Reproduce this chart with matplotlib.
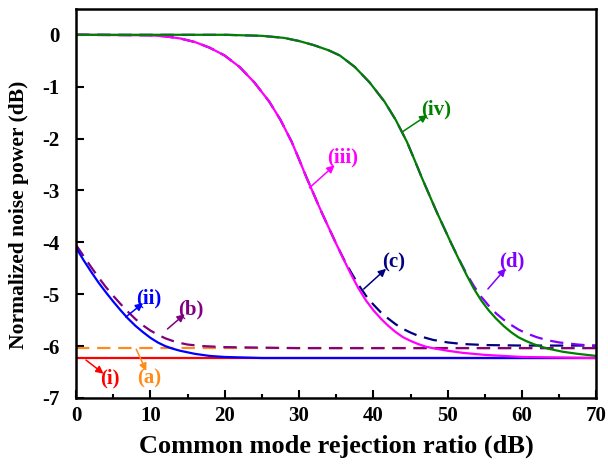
import numpy as np
import matplotlib
matplotlib.use("Agg")
import matplotlib.pyplot as plt
from matplotlib.ticker import MultipleLocator

plt.rcParams['font.family'] = ['Liberation Serif', 'DejaVu Serif']
plt.rcParams['font.weight'] = 'bold'
plt.rcParams['axes.unicode_minus'] = False

# (i) and (a): flat levels
x_flat = [0, 70]
y_i = [-6.23, -6.23]
y_a = [-6.04, -6.04]

# (ii) solid blue, (b) dashed purple
x_ii = [0, 1, 2, 3, 4, 5, 6, 7, 8, 9, 10, 11, 12, 13, 14, 15, 16, 18, 20, 25, 30, 70]
y_ii = [-4.10, -4.34, -4.56, -4.77, -4.96, -5.14, -5.31, -5.47, -5.61, -5.73,
        -5.84, -5.93, -6.00, -6.05, -6.09, -6.12, -6.15, -6.19, -6.21, -6.23,
        -6.23, -6.23]
x_b = [0, 1, 2, 3, 4, 5, 6, 7, 8, 9, 10, 11, 12, 13, 14, 15, 17, 20, 25, 30, 70]
y_b = [-4.05, -4.26, -4.47, -4.67, -4.86, -5.03, -5.19, -5.34, -5.48, -5.60,
       -5.70, -5.78, -5.85, -5.90, -5.94, -5.97, -6.00, -6.02, -6.03, -6.04, -6.04]

# (iii) solid magenta, (c) dashed navy
x_iii = [0, 10, 12, 14, 16, 18, 20, 22, 24, 26, 27.5, 29, 30, 31, 32, 33, 34,
         35, 36, 37, 38, 39, 40, 41, 42, 43, 44, 45, 46, 47, 48, 50, 52, 55,
         60, 65, 70]
y_iii = [0, -0.01, -0.03, -0.07, -0.14, -0.25, -0.40, -0.62, -0.92, -1.29,
         -1.64, -2.06, -2.40, -2.75, -3.08, -3.41, -3.72, -4.03, -4.33, -4.62,
         -4.89, -5.12, -5.31, -5.47, -5.61, -5.73, -5.83, -5.90, -5.96, -6.01,
         -6.04, -6.09, -6.13, -6.17, -6.21, -6.22, -6.23]
x_c = [0, 10, 12, 14, 16, 18, 20, 22, 24, 26, 27.5, 29, 30, 31, 32, 33, 34,
       35, 36, 37, 38, 39, 40, 41, 42, 43, 44, 45, 46, 47, 48, 50, 52, 55, 60, 70]
y_c = [0, -0.01, -0.03, -0.07, -0.14, -0.25, -0.40, -0.62, -0.92, -1.29,
       -1.64, -2.06, -2.40, -2.75, -3.08, -3.41, -3.72, -4.03, -4.32, -4.58,
       -4.82, -5.03, -5.20, -5.35, -5.47, -5.58, -5.67, -5.74, -5.80, -5.84,
       -5.88, -5.93, -5.96, -5.98, -5.99, -5.99]

# (iv) solid green, (d) dashed violet
x_iv = [0, 20, 25, 28, 30, 32, 34, 35.5, 37.5, 39.5, 41.5, 43, 44.5, 45.5,
        46.5, 47.5, 48.5, 49.5, 50.5, 51.5, 52.5, 53.5, 54.5, 55.5, 56.5, 57.5,
        58.5, 59.5, 60.5, 61.5, 62.5, 63.5, 65.5, 67.5, 70]
y_iv = [0, 0, -0.02, -0.06, -0.12, -0.20, -0.30, -0.40, -0.62, -0.92, -1.29,
        -1.64, -2.06, -2.40, -2.75, -3.08, -3.41, -3.72, -4.03, -4.33, -4.62,
        -4.89, -5.12, -5.31, -5.47, -5.61, -5.73, -5.83, -5.90, -5.96, -6.01,
        -6.05, -6.11, -6.15, -6.19]
x_d = [0, 20, 25, 28, 30, 32, 34, 35.5, 37.5, 39.5, 41.5, 43, 44.5, 45.5,
       46.5, 47.5, 48.5, 49.5, 50.5, 51.5, 52.5, 53.5, 54.5, 55.5, 56.5, 57.5,
       58.5, 59.5, 60.5, 62, 63.5, 65, 67.5, 70]
y_d = [0, 0, -0.02, -0.06, -0.12, -0.20, -0.30, -0.40, -0.62, -0.92, -1.29,
       -1.64, -2.06, -2.40, -2.75, -3.08, -3.41, -3.72, -4.03, -4.32, -4.60,
       -4.84, -5.05, -5.22, -5.37, -5.49, -5.59, -5.68, -5.75, -5.83, -5.89,
       -5.93, -5.97, -6.00]

# labels: text, text pos, arrow start, colour
labels = ['(i)', '(a)', '(ii)', '(b)', '(iii)', '(c)', '(iv)', '(d)']
text_xy = [(4.5, -6.62), (9.9, -6.62), (9.8, -5.08), (15.4, -5.29),
           (35.9, -2.37), (42.7, -4.38), (48.4, -1.44), (58.6, -4.37)]
arrow_from = [(1.35, -6.27), (8.1, -6.06), (6.7, -5.44), (12.3, -5.67),
              (31.4, -2.95), (38.7, -4.90), (43.9, -1.87), (55.4, -4.90)]

c_i, c_a, c_ii, c_b = '#ff0000', '#ff8c1a', '#0000ff', '#800080'
c_iii, c_c, c_iv, c_d = '#ff00ff', '#000080', '#008000', '#8000ff'
colors = [c_i, c_a, c_ii, c_b, c_iii, c_c, c_iv, c_d]

fig = plt.figure(figsize=(6.08, 4.66), dpi=100)
ax = fig.add_axes([0.125, 0.146, 0.856, 0.835])

lw = 1.6
dash = (6, 3.5)
ax.plot(x_flat, y_a, color=c_a, lw=lw, dashes=dash)
ax.plot(x_b, y_b, color=c_b, lw=lw, dashes=dash)
ax.plot(x_c, y_c, color=c_c, lw=lw, dashes=dash)
ax.plot(x_d, y_d, color=c_d, lw=lw, dashes=dash)
ax.plot(x_flat, y_i, color=c_i, lw=lw)
ax.plot(x_ii, y_ii, color=c_ii, lw=lw)
ax.plot(x_iii, y_iii, color=c_iii, lw=lw)
ax.plot(x_iv, y_iv, color=c_iv, lw=lw)

for lab, txy, axy, col in zip(labels, text_xy, arrow_from, colors):
    ax.text(txy[0], txy[1], lab, color=col, fontsize=15, fontweight='bold',
            ha='center', va='center')
    tip = (axy[0] + 0.75 * (txy[0] - axy[0]), axy[1] + 0.75 * (txy[1] - axy[1]))
    ax.annotate('', xy=tip, xytext=axy,
                arrowprops=dict(arrowstyle='-|>', color=col, lw=1.1,
                                mutation_scale=11, shrinkA=0, shrinkB=0))

ax.set_xlim(0, 70)
ax.set_ylim(-7, 0.5)
ax.xaxis.set_major_locator(MultipleLocator(10))
ax.xaxis.set_minor_locator(MultipleLocator(5))
ax.yaxis.set_major_locator(MultipleLocator(1))
ax.tick_params(which='both', direction='in', top=False, right=False,
               labelsize=15, width=1.5)
ax.tick_params(which='major', length=6)
ax.tick_params(axis='y', which='major', pad=12)
ax.tick_params(axis='x', which='major', pad=6)
ax.tick_params(which='minor', length=3)
for s in ax.spines.values():
    s.set_linewidth(1.8)

ax.set_xlabel('Common mode rejection ratio (dB)', fontsize=19, fontweight='bold',
              labelpad=6)
ax.set_ylabel('Normalized noise power (dB)', fontsize=15.5, fontweight='bold')
ax.yaxis.set_label_coords(-0.09, 0.47)

fig.savefig('out.png', dpi=100)
